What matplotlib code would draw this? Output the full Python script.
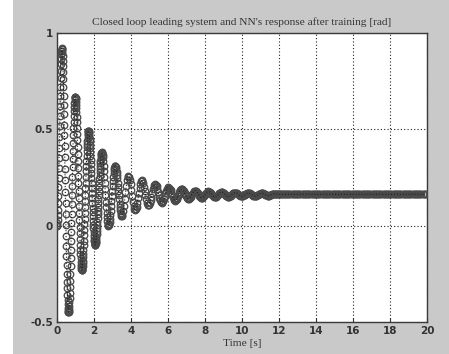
import numpy as np
import matplotlib
matplotlib.use("Agg")
import matplotlib.pyplot as plt
from matplotlib.patches import Rectangle

# ---- data ----
# segment A1: t = 0 .. 2.42, step 0.01
dt_a1, t0_a1 = 0.01, 0.0
resp_a1 = [
    0.0,
    0.003, 0.013, 0.030, 0.053, 0.081, 0.116, 0.155, 0.199, 0.246, 0.297, 0.350, 0.405, 0.46,
    0.515, 0.570, 0.623, 0.674, 0.721, 0.765, 0.804, 0.839, 0.867, 0.890, 0.906, 0.917, 0.92,
    0.917, 0.909, 0.897, 0.879, 0.856, 0.828, 0.796, 0.760, 0.719, 0.675, 0.628, 0.578, 0.524, 0.469, 0.412, 0.354, 0.295, 0.235,
    0.175, 0.116, 0.058, 0.001, -0.054, -0.108, -0.158, -0.205, -0.249, -0.290, -0.326, -0.358, -0.386, -0.409, -0.427, -0.439, -0.447, -0.45,
    -0.448, -0.441, -0.431, -0.416, -0.398, -0.375, -0.349, -0.319, -0.286, -0.250, -0.211, -0.170, -0.127, -0.082, -0.035, 0.013, 0.061, 0.110,
    0.159, 0.207, 0.255, 0.302, 0.347, 0.390, 0.431, 0.470, 0.506, 0.539, 0.569, 0.595, 0.618, 0.636, 0.651, 0.661, 0.668, 0.67,
    0.668, 0.663, 0.655, 0.643, 0.628, 0.610, 0.589, 0.565, 0.538, 0.509, 0.478, 0.445, 0.410, 0.374, 0.336, 0.298, 0.259, 0.220,
    0.181, 0.142, 0.104, 0.066, 0.030, -0.005, -0.038, -0.069, -0.098, -0.125, -0.149, -0.170, -0.188, -0.203, -0.215, -0.223, -0.228, -0.23,
    -0.229, -0.224, -0.218, -0.208, -0.196, -0.182, -0.165, -0.146, -0.125, -0.101, -0.077, -0.050, -0.022, 0.007, 0.037, 0.067, 0.099, 0.130,
    0.161, 0.193, 0.223, 0.253, 0.282, 0.310, 0.337, 0.361, 0.385, 0.406, 0.425, 0.442, 0.456, 0.468, 0.478, 0.484, 0.489, 0.49,
    0.489, 0.485, 0.480, 0.472, 0.462, 0.450, 0.437, 0.421, 0.404, 0.384, 0.364, 0.343, 0.320, 0.296, 0.271, 0.246, 0.221, 0.195,
    0.169, 0.144, 0.119, 0.094, 0.070, 0.048, 0.026, 0.006, -0.014, -0.031, -0.047, -0.060, -0.072, -0.082, -0.090, -0.095, -0.099, -0.10,
    -0.099, -0.096, -0.092, -0.086, -0.078, -0.068, -0.057, -0.044, -0.030, -0.014, 0.002, 0.020, 0.039, 0.058, 0.078, 0.098, 0.119, 0.140,
    0.161, 0.182, 0.202, 0.222, 0.241, 0.260, 0.278, 0.294, 0.310, 0.324, 0.337, 0.348, 0.358, 0.366, 0.372, 0.376, 0.379, 0.38,
]
# segment A2: t = 2.44 .. 3.50, step 0.02
dt_a2, t0_a2 = 0.02, 2.44
resp_a2 = [
    0.377, 0.369, 0.355, 0.336, 0.312, 0.285, 0.255, 0.223, 0.190, 0.157, 0.125, 0.095, 0.068, 0.044, 0.025, 0.011, 0.003, 0.00,
    0.002, 0.009, 0.021, 0.036, 0.055, 0.078, 0.102, 0.128, 0.155, 0.182, 0.208, 0.233, 0.255, 0.274, 0.289, 0.301, 0.308, 0.31,
    0.308, 0.302, 0.293, 0.280, 0.263, 0.245, 0.224, 0.203, 0.180, 0.157, 0.136, 0.115, 0.097, 0.080, 0.067, 0.058, 0.052, 0.05,
]
# segment B: t = 3.54 .. 8.18, step 0.04
dt_b, t0_b = 0.04, 3.54
resp_b = [
    0.056, 0.075, 0.103, 0.137, 0.173, 0.208, 0.235, 0.254, 0.26,
    0.255, 0.239, 0.215, 0.186, 0.154, 0.125, 0.101, 0.085, 0.08,
    0.085, 0.098, 0.119, 0.144, 0.171, 0.196, 0.217, 0.230, 0.235,
    0.231, 0.220, 0.203, 0.181, 0.159, 0.138, 0.120, 0.109, 0.105,
    0.108, 0.118, 0.133, 0.150, 0.170, 0.188, 0.202, 0.212, 0.215,
    0.212, 0.204, 0.191, 0.176, 0.159, 0.144, 0.131, 0.123, 0.12,
    0.122, 0.129, 0.140, 0.153, 0.167, 0.180, 0.191, 0.198, 0.20,
    0.198, 0.192, 0.183, 0.171, 0.159, 0.148, 0.138, 0.132, 0.13,
    0.132, 0.137, 0.145, 0.155, 0.165, 0.175, 0.183, 0.188, 0.19,
    0.189, 0.184, 0.178, 0.169, 0.161, 0.153, 0.146, 0.142, 0.14,
    0.141, 0.145, 0.151, 0.157, 0.165, 0.172, 0.177, 0.181, 0.182,
    0.181, 0.178, 0.173, 0.167, 0.160, 0.154, 0.149, 0.146, 0.145,
    0.146, 0.149, 0.153, 0.159, 0.164, 0.170, 0.174, 0.177, 0.178,
]
# segment C: t = 8.22 .. 12.14, step 0.04
dt_c, t0_c = 0.04, 8.22
resp_c = [
    0.177, 0.174, 0.171, 0.166, 0.160, 0.156, 0.152, 0.149, 0.148,
    0.149, 0.151, 0.155, 0.159, 0.164, 0.168, 0.172, 0.174, 0.175,
    0.174, 0.172, 0.169, 0.165, 0.160, 0.156, 0.153, 0.151, 0.150,
    0.151, 0.153, 0.156, 0.159, 0.163, 0.167, 0.169, 0.171, 0.172,
    0.171, 0.170, 0.167, 0.164, 0.160, 0.157, 0.154, 0.153, 0.152,
    0.153, 0.154, 0.157, 0.159, 0.163, 0.166, 0.168, 0.169, 0.170,
    0.170, 0.168, 0.166, 0.163, 0.161, 0.158, 0.156, 0.154, 0.154,
    0.154, 0.156, 0.158, 0.160, 0.162, 0.164, 0.166, 0.168, 0.168,
    0.168, 0.167, 0.165, 0.163, 0.161, 0.159, 0.157, 0.156, 0.156,
    0.156, 0.157, 0.159, 0.160, 0.162, 0.164, 0.165, 0.166, 0.166,
    0.166, 0.165, 0.164, 0.163, 0.162, 0.162, 0.162, 0.162, 0.162,
]
# segment D: t = 12.20 .. 19.94, step 0.06
dt_d, t0_d = 0.06, 12.20
resp_d = [
    0.162, 0.162, 0.163, 0.163, 0.163, 0.163, 0.163, 0.163, 0.163, 0.162,
    0.162, 0.163, 0.163, 0.163, 0.164, 0.164, 0.163, 0.163, 0.163, 0.163,
    0.163, 0.163, 0.163, 0.163, 0.163, 0.163, 0.163, 0.163, 0.163, 0.163,
    0.163, 0.163, 0.163, 0.163, 0.163, 0.163, 0.163, 0.163, 0.163, 0.163,
    0.163, 0.163, 0.163, 0.163, 0.163, 0.163, 0.163, 0.163, 0.163, 0.163,
    0.163, 0.163, 0.163, 0.163, 0.163, 0.163, 0.163, 0.163, 0.163, 0.163,
    0.163, 0.163, 0.163, 0.163, 0.163, 0.163, 0.163, 0.163, 0.163, 0.163,
    0.163, 0.163, 0.163, 0.163, 0.163, 0.163, 0.163, 0.163, 0.163, 0.163,
    0.163, 0.163, 0.163, 0.163, 0.163, 0.163, 0.163, 0.163, 0.163, 0.163,
    0.163, 0.163, 0.163, 0.163, 0.163, 0.163, 0.163, 0.163, 0.163, 0.163,
    0.163, 0.163, 0.163, 0.163, 0.163, 0.163, 0.163, 0.163, 0.163, 0.163,
    0.163, 0.163, 0.163, 0.163, 0.163, 0.163, 0.163, 0.163, 0.163, 0.163,
    0.163, 0.163, 0.163, 0.163, 0.163, 0.163, 0.163, 0.163, 0.163, 0.163,
]

x_ticks = [0, 2, 4, 6, 8, 10, 12, 14, 16, 18, 20]
y_ticks = [-0.5, 0, 0.5, 1]
y_ticklabels = ["-0.5", "0", "0.5", "1"]
title = "Closed loop leading system and NN's response after training [rad]"
xlabel = "Time [s]"

# ---- assemble sample grid ----
segs = [(t0_a1, dt_a1, resp_a1), (t0_a2, dt_a2, resp_a2), (t0_b, dt_b, resp_b),
        (t0_c, dt_c, resp_c), (t0_d, dt_d, resp_d)]
t = np.concatenate([s0 + d * np.arange(len(v)) for s0, d, v in segs])
y = np.concatenate([np.asarray(v, dtype=float) for _, _, v in segs])

# ---- figure ----
W, H = 449, 354
fig = plt.figure(figsize=(W / 100, H / 100), dpi=100, facecolor="#c9c9c9")
fig.patches.append(Rectangle((0, 0), 13 / W, 1, transform=fig.transFigure,
                             facecolor="white", edgecolor="none", zorder=-1))

ax = fig.add_axes([57 / W, (H - 322) / H, (427 - 57) / W, (322 - 33) / H])
ax.set_facecolor("white")

ax.plot(t, y, linestyle="none", marker="o", markersize=4.7, markerfacecolor="none",
        markeredgecolor="#4a4a4a", markeredgewidth=0.95, zorder=3)
ax.plot(t, y, linestyle=":", color="#202020", linewidth=0.8, zorder=4)

ax.set_xlim(0, 20)
ax.set_ylim(-0.5, 1)
ax.set_xticks(x_ticks)
ax.set_yticks(y_ticks)
ax.set_yticklabels(y_ticklabels)
ax.grid(True, linestyle=(0, (1, 2)), color="#202020", linewidth=0.8)
ax.set_axisbelow(True)

ax.tick_params(direction="in", length=3, width=0.8, colors="#333333",
               labelsize=7.5, pad=3)
for lab in ax.get_xticklabels() + ax.get_yticklabels():
    lab.set_fontweight("bold")
    lab.set_family("DejaVu Sans")
for sp in ax.spines.values():
    sp.set_color("#3a3a3a")
    sp.set_linewidth(1.0)

ax.set_title(title, family="Liberation Serif", fontsize=8.2, color="#333333", pad=6)
ax.set_xlabel(xlabel, family="Liberation Serif", fontsize=8.2, color="#333333", labelpad=2)

fig.savefig("out.png", dpi=100, facecolor=fig.get_facecolor())
